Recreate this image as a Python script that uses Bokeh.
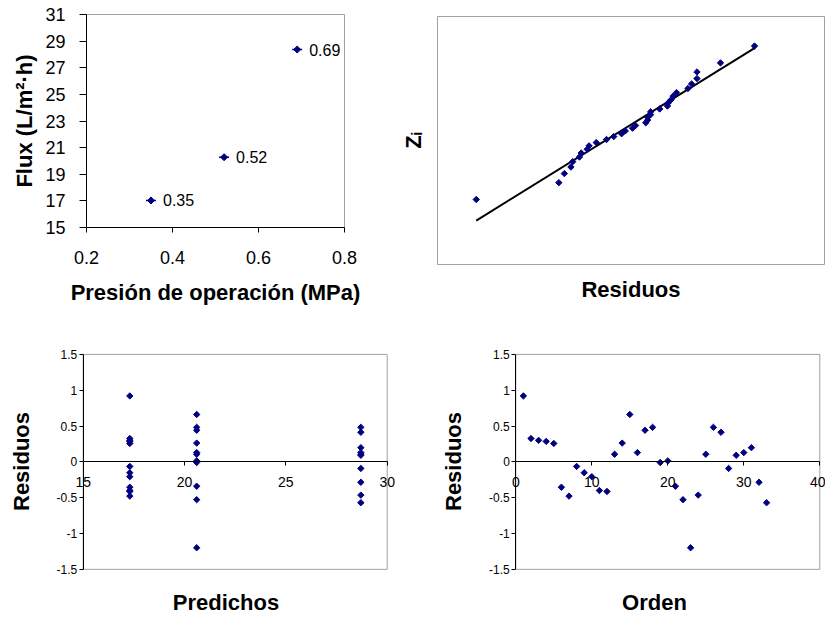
import math
from bokeh.plotting import figure
from bokeh.layouts import column, row
from bokeh.models import LinearAxis, FixedTicker, NumeralTickFormatter, Range1d
from bokeh.core.properties import value
from bokeh.embed import file_html
from bokeh.resources import INLINE

# ---------------- data ----------------
pressure = [0.35, 0.52, 0.69]
flux = [17.03, 20.28, 28.37]
pressure_labels = ["0.35", "0.52", "0.69"]
p1_xticks = [0.2, 0.4, 0.6, 0.8]
p1_yticks = [15, 17, 19, 21, 23, 25, 27, 29, 31]

order = list(range(1, 34))
residuals = [0.92, 0.326, 0.30, 0.285, 0.257, -0.354, -0.478, -0.064, -0.152, -0.207,
             -0.40, -0.413, 0.106, 0.262, 0.661, 0.129, 0.441, 0.482, -0.009, 0.014,
             -0.34, -0.528, -1.199, -0.464, 0.106, 0.482, 0.413, -0.092, 0.092, 0.129,
             0.198, -0.285, -0.57]
predicted = [17.3] * 12 + [20.6] * 11 + [28.7] * 10

qq_residuals = [-1.199, -0.570, -0.528, -0.478, -0.464, -0.413, -0.400, -0.354, -0.340,
                -0.285, -0.207, -0.152, -0.092, -0.064, -0.009, 0.014, 0.092, 0.106,
                0.106, 0.129, 0.129, 0.198, 0.257, 0.262, 0.285, 0.300, 0.326, 0.413,
                0.441, 0.482, 0.482, 0.661, 0.920]
qq_z = [-2.166, -1.690, -1.434, -1.248, -1.097, -0.967, -0.853, -0.748, -0.651, -0.559,
        -0.473, -0.390, -0.309, -0.230, -0.152, -0.076, 0.0, 0.076, 0.152, 0.230, 0.309,
        0.390, 0.473, 0.559, 0.651, 0.748, 0.853, 0.967, 1.097, 1.248, 1.434, 1.690, 2.166]
fit_x = [-1.199, 0.920]
fit_z = [-2.76, 2.11]

res_yticks = [-1.5, -1.0, -0.5, 0.0, 0.5, 1.0, 1.5]
pred_xticks = [15, 20, 25, 30]
order_xticks = [0, 10, 20, 30, 40]

# ---------------- style ----------------
NAVY = "#000080"
FONT = "Liberation Sans"
OUTLINE = "#a0a0a0"


def base(width, height, xr, yr, ml, mr, mt, mb, xloc="below", yloc="left"):
    p = figure(width=width, height=height, x_range=Range1d(*xr), y_range=Range1d(*yr),
               output_backend="svg", toolbar_location=None,
               min_border_left=ml, min_border_right=mr, min_border_top=mt,
               min_border_bottom=mb, x_axis_location=xloc, y_axis_location=yloc)
    p.xgrid.visible = False
    p.ygrid.visible = False
    p.outline_line_color = OUTLINE
    p.outline_line_width = 1
    p.background_fill_color = "white"
    p.border_fill_color = "white"
    return p


def style_axis(ax, tick_size, tick_out, label_standoff, axis_label_standoff):
    ax.axis_line_color = "black"
    ax.major_tick_line_color = "black"
    ax.major_tick_out = tick_out
    ax.major_tick_in = 0
    ax.minor_tick_line_color = None
    ax.major_label_text_font = FONT
    ax.major_label_text_font_size = tick_size
    ax.major_label_text_color = "black"
    ax.major_label_standoff = label_standoff
    ax.axis_label_text_font = FONT
    ax.axis_label_text_font_size = "22px"
    ax.axis_label_text_font_style = "bold"
    ax.axis_label_text_color = "black"
    ax.axis_label_standoff = axis_label_standoff


def label_only_axis(text, standoff):
    ax = LinearAxis(ticker=FixedTicker(ticks=[]))
    ax.axis_line_color = None
    ax.major_tick_line_color = None
    ax.minor_tick_line_color = None
    ax.major_tick_out = 0
    ax.major_tick_in = 0
    ax.major_label_standoff = 0
    ax.axis_label = text
    ax.axis_label_text_font = FONT
    ax.axis_label_text_font_size = "22px"
    ax.axis_label_text_font_style = "bold"
    ax.axis_label_text_color = "black"
    ax.axis_label_standoff = standoff
    return ax


# ---------------- panel 1: flux vs pressure ----------------
p1 = base(395, 310, (0.2, 0.8), (15, 31), 86, 51, 14, 83)
style_axis(p1.xaxis[0], "18px", 5, 18, 13)
style_axis(p1.yaxis[0], "18px", 7, 14, 5)
p1.xaxis.ticker = FixedTicker(ticks=p1_xticks)
p1.xaxis.formatter = NumeralTickFormatter(format="0.0")
p1.yaxis.ticker = FixedTicker(ticks=p1_yticks)
p1.xaxis.axis_label = "Presión de operación (MPa)"
p1.yaxis.axis_label = "Flux (L/m²·h)"
p1.scatter(pressure, flux, marker="dash", size=10, line_color=NAVY, line_width=1.5)
p1.scatter(pressure, flux, marker="square", angle=math.pi / 4, size=5,
           fill_color=NAVY, line_color=NAVY)
p1.text(pressure, flux, text=pressure_labels, x_offset=12, text_baseline="middle",
        text_font=value(FONT), text_font_size="16px", text_color="black")

# ---------------- panel 2: normal probability plot ----------------
p2 = base(430, 310, (-1.494, 1.453), (-4, 3), 42, 1, 16, 46, xloc=None, yloc=None)
p2.add_layout(label_only_axis("Residuos", 12), "below")
p2.add_layout(label_only_axis("Zᵢ", 12), "left")
p2.line(fit_x, fit_z, line_color="black", line_width=2)
p2.scatter(qq_residuals, qq_z, marker="square", angle=math.pi / 4, size=4.5,
           fill_color=NAVY, line_color=NAVY)


# ---------------- panels 3 & 4: residual plots ----------------
def residual_panel(width, xr, xticks, ml, mr, xlabel, xs):
    p = base(width, 307, xr, (-1.614, 1.624), ml, mr, 35, 37, xloc=None, yloc=None)
    p.outline_line_color = None
    x_lo, x_hi = xticks[0], xticks[-1]
    y_lo, y_hi = res_yticks[0], res_yticks[-1]
    # plot-area border
    p.quad(left=[x_lo], right=[x_hi], bottom=[y_lo], top=[y_hi],
           fill_color=None, line_color=OUTLINE, line_width=1)
    # vertical axis at the left edge of the plot area
    yax = LinearAxis(fixed_location=x_lo, ticker=FixedTicker(ticks=res_yticks),
                     formatter=NumeralTickFormatter(format="0.[0]"), bounds=(y_lo, y_hi))
    style_axis(yax, "12px", 4, 2, 0)
    p.add_layout(yax, "left")
    p.add_layout(label_only_axis("Residuos", 18), "left")
    # horizontal axis crossing at zero
    xax = LinearAxis(fixed_location=0, ticker=FixedTicker(ticks=xticks), bounds=(x_lo, x_hi))
    style_axis(xax, "14px", 4, 11, 0)
    p.add_layout(xax, "below")
    p.add_layout(label_only_axis(xlabel, 12), "below")
    p.scatter(xs, residuals, marker="square", angle=math.pi / 4, size=4.5,
              fill_color=NAVY, line_color=NAVY)
    return p


p3 = residual_panel(420, (13.436, 30.656), pred_xticks, 51, 20, "Predichos", predicted)
p4 = residual_panel(405, (-4.25, 40.75), order_xticks, 63, 0, "Orden", order)

layout = column(row(column(p1), column(p2)), row(column(p3), column(p4)))
open("out.html", "w").write(file_html(layout, INLINE))
